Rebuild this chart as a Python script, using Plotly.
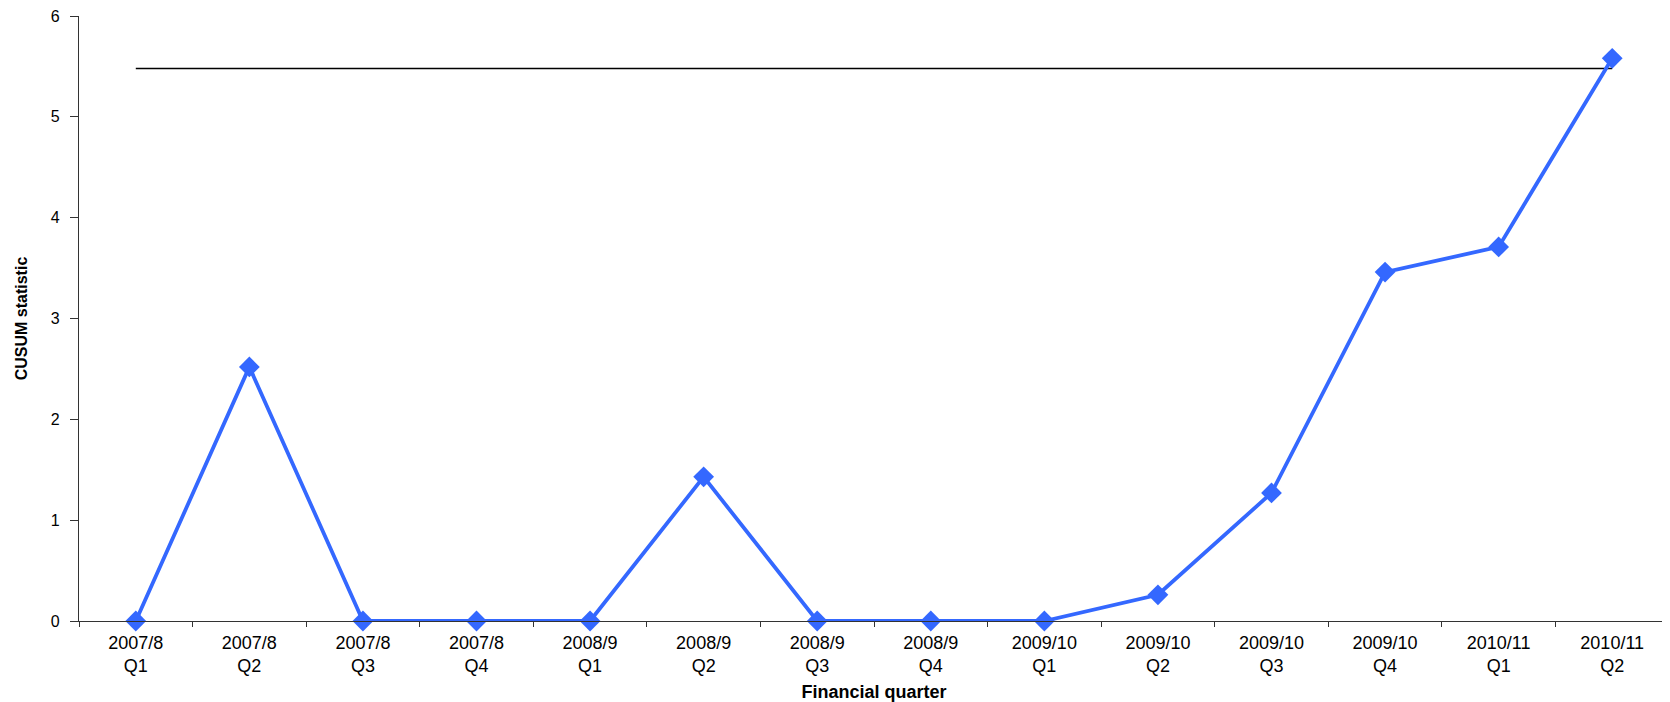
import plotly.graph_objects as go

quarters = ["2007/8<br>Q1", "2007/8<br>Q2", "2007/8<br>Q3", "2007/8<br>Q4",
            "2008/9<br>Q1", "2008/9<br>Q2", "2008/9<br>Q3", "2008/9<br>Q4",
            "2009/10<br>Q1", "2009/10<br>Q2", "2009/10<br>Q3", "2009/10<br>Q4",
            "2010/11<br>Q1", "2010/11<br>Q2"]
cusum = [0, 2.52, 0, 0, 0, 1.43, 0, 0, 0, 0.26, 1.27, 3.46, 3.71, 5.58]
threshold = 5.48

fig = go.Figure()
fig.add_trace(go.Scatter(
    x=[quarters[0], quarters[-1]], y=[threshold, threshold],
    mode="lines", line=dict(color="#000000", width=1.5),
    showlegend=False, hoverinfo="skip"))
fig.add_trace(go.Scatter(
    x=quarters, y=cusum, mode="lines+markers",
    line=dict(color="#3468FF", width=3.8),
    marker=dict(symbol="diamond", size=16, color="#3468FF"),
    showlegend=False, cliponaxis=False))

font_family = "Liberation Sans, Arial, sans-serif"
fig.update_layout(
    width=1662, height=694,
    margin=dict(l=71, r=1, t=8, b=81),
    paper_bgcolor="white", plot_bgcolor="white",
    font=dict(family=font_family, color="#000000", size=18),
    xaxis=dict(
        type="category", categoryorder="array", categoryarray=quarters,
        range=[-0.5, 13.5], showline=True, linecolor="#333333", linewidth=1.2,
        ticks="outside", ticklen=5, tickcolor="#333333", tickson="boundaries",
        showgrid=False, zeroline=False, automargin=False,
        tickfont=dict(size=18, family=font_family),
        ticklabelstandoff=5,
        title=dict(text="<b>Financial quarter</b>", font=dict(size=18), standoff=10),
    ),
    yaxis=dict(
        range=[0, 6], dtick=1, showline=True, linecolor="#333333", linewidth=1.2,
        ticks="outside", ticklen=8, tickcolor="#333333",
        showgrid=False, zeroline=False, automargin=False,
        tickfont=dict(size=16, family=font_family),
        ticklabelstandoff=7, ticklabeloverflow="allow",
        title=dict(text="<b>CUSUM statistic</b>", font=dict(size=16), standoff=19),
    ),
)

fig.write_html("out.html")
